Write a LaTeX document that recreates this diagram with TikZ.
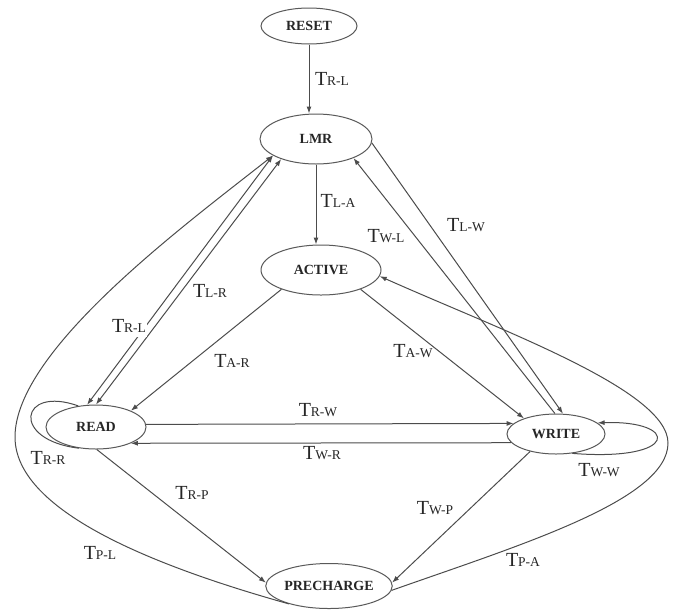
\documentclass[tikz,border=0pt]{standalone}
\usepackage{fontspec}
\setmainfont{Liberation Serif}
\usetikzlibrary{shapes.geometric,arrows.meta}
\newcommand\tlab[1]{T{\fontsize{13.5}{14}\selectfont #1}}
\begin{document}
\begin{tikzpicture}[x=1pt,y=-1pt,
  state/.style={ellipse, draw=black!65, line width=1pt, fill=white, inner sep=0pt,
    font=\fontsize{14}{14}\selectfont\bfseries, text=black!85},
  edge/.style={draw=black!70, line width=1pt},
  arr/.style={edge, -{Latex[length=7pt,width=5pt]}},
  arrboth/.style={edge, {Latex[length=7pt,width=5pt]}-{Latex[length=7pt,width=5pt]}},
  lbl/.style={font=\fontsize{20}{20}\selectfont, text=black!85, inner sep=1pt}
]
\useasboundingbox (0,0) rectangle (676,611);

% states
\node[state, minimum width=96pt, minimum height=36pt] (reset) at (309,26) {RESET};
\node[state, minimum width=112pt, minimum height=50pt] (lmr) at (316,139) {LMR};
\node[state, minimum width=120pt, minimum height=50pt] (active) at (321,270) {ACTIVE};
\node[state, minimum width=100pt, minimum height=44pt] (read) at (96,427) {READ};
\node[state, minimum width=98pt, minimum height=40pt] (write) at (556,434) {WRITE};
\node[state, minimum width=108pt, minimum height=45pt] (pre) at (329,586) {PRECHARGE};

% transitions
\draw[arr] (reset.south) -- (reset.south |- lmr.north);
\draw[arr] (lmr.south) -- (lmr.south |- active.north);
\draw[arrboth] (read.112.6) -- (lmr.201.6);
\draw[arrboth] (read.90) -- (lmr.210.5);
\draw[arr] (active.206) -- (read.25);
\draw[arr] (active.-26.6) -- (write.154.7);
\draw[arr] (lmr.-4) -- (write.71.6);
\draw[arr] (write.93) -- (lmr.-27.6);
\draw[arr] (read.3.5) -- (write.166.7);
\draw[arr] (write.191.6) -- (read.-25);
\draw[edge] (read.130.6) .. controls (20,385) and (10,440) .. (read.231.3);
\draw[arr] (write.-50) .. controls (680,462) and (680,420) .. (write.15.3);
\draw[arr] (read.-88) -- (pre.177);
\draw[arr] (write.214.7) -- (pre.3);
\draw[arr] (pre.204.3) .. controls (150,565) and (15,510) .. (15,437)
  .. controls (15,350) and (185,225) .. (lmr.201.6);
\draw[arr] (pre.-4) .. controls (520,545) and (668,500) .. (668,443)
  .. controls (668,390) and (500,330) .. (active.-6);

% labels
\node[lbl] (l1) at (332,79) {\tlab{R-L}};
\node[lbl] (l2) at (338,201) {\tlab{L-A}};
\node[lbl] (l3) at (386,236) {\tlab{W-L}};
\node[lbl] (l4) at (466,225) {\tlab{L-W}};
\node[lbl] (l5) at (210,291) {\tlab{L-R}};
\node[lbl, fill=white, inner xsep=1pt, inner ysep=4pt] (l6) at (129,326) {\tlab{R-L}\hspace{10pt}};
\node[lbl] (l7) at (232,361) {\tlab{A-R}};
\node[lbl] (l8) at (413,351) {\tlab{A-W}};
\node[lbl] (l9) at (318,410) {\tlab{R-W}};
\node[lbl] (l10) at (322,453) {\tlab{W-R}};
\node[lbl] (l11) at (48,458) {\tlab{R-R}};
\node[lbl] (l12) at (599,470) {\tlab{W-W}};
\node[lbl] (l13) at (192,493) {\tlab{R-P}};
\node[lbl] (l14) at (435,508) {\tlab{W-P}};
\node[lbl] (l15) at (100,553) {\tlab{P-L}};
\node[lbl] (l16) at (523,560) {\tlab{P-A}};
\end{tikzpicture}
\end{document}
